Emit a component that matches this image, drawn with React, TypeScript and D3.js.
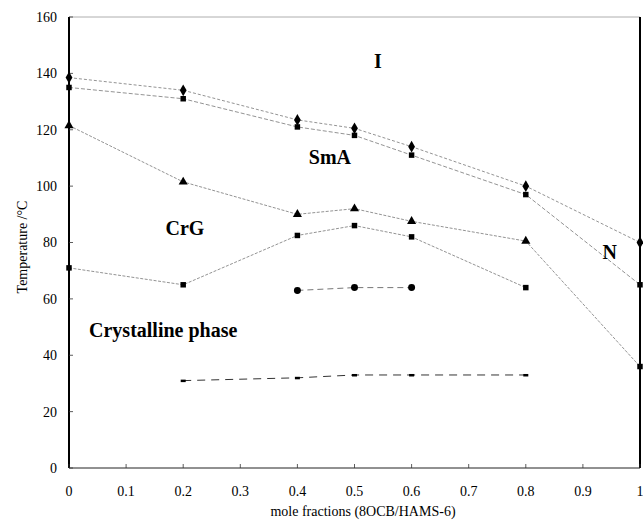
import * as d3 from 'd3';

const xTicks = [0, 0.1, 0.2, 0.3, 0.4, 0.5, 0.6, 0.7, 0.8, 0.9, 1];
const yTicks = [0, 20, 40, 60, 80, 100, 120, 140, 160];

// isotropic (I) transition - diamonds
const clearX = [0, 0.2, 0.4, 0.5, 0.6, 0.8, 1];
const clearY = [138.5, 134, 123.5, 120.5, 114, 100, 80];
// N / SmA upper - squares
const upperX = [0, 0.2, 0.4, 0.5, 0.6, 0.8, 1];
const upperY = [135, 131, 121, 118, 111, 97, 65];
// SmA / CrG - triangles
const smaX = [0, 0.2, 0.4, 0.5, 0.6, 0.8, 1];
const smaY = [121.5, 101.5, 90, 92, 87.5, 80.5, 36];
// CrG / crystal - squares
const crgX = [0, 0.2, 0.4, 0.5, 0.6, 0.8];
const crgY = [71, 65, 82.5, 86, 82, 64];
// circles
const circX = [0.4, 0.5, 0.6];
const circY = [63, 64, 64];
// lowest transition - dashes
const lowX = [0.2, 0.4, 0.5, 0.6, 0.8];
const lowY = [31, 32, 33, 33, 33];

const phaseLabels = [
  { text: 'I', x: 0.541, y: 144.5 },
  { text: 'SmA', x: 0.457, y: 110.5 },
  { text: 'CrG', x: 0.203, y: 85 },
  { text: 'N', x: 0.947, y: 76.5 },
  { text: 'Crystalline phase', x: 0.165, y: 49 },
];

const W = 643;
const H = 524;
const left = 69;
const right = 640;
const top = 17;
const bottom = 468;

export default function App() {
  const x = d3.scaleLinear().domain([0, 1]).range([left, right]);
  const y = d3.scaleLinear().domain([0, 160]).range([bottom, top]);
  const line = (xs: number[], ys: number[]) =>
    d3.line<number>().x((_, i) => x(xs[i])).y((d) => y(d))(ys) || '';

  const font = '"Liberation Serif", "Times New Roman", serif';
  const stroke = '#777';

  const diamond = d3.symbol(d3.symbolDiamond, 40)() || '';
  const square = d3.symbol(d3.symbolSquare, 30)() || '';
  const triangle = d3.symbol(d3.symbolTriangle, 36)() || '';
  const circle = d3.symbol(d3.symbolCircle, 38)() || '';

  return (
    <svg
      width={W}
      height={H}
      style={{ position: 'absolute', left: 0, top: 0, background: '#fff', fontFamily: font }}
    >
      {/* frame */}
      <line x1={left} x2={right} y1={top} y2={top} stroke="#999" strokeWidth={0.8} />
      <line x1={left} x2={right} y1={bottom} y2={bottom} stroke="#222" strokeWidth={1} />
      <line x1={left} x2={left} y1={top} y2={bottom} stroke="#000" strokeWidth={2} />
      <line x1={right} x2={right} y1={top} y2={bottom} stroke="#000" strokeWidth={2} />

      {yTicks.map((t) => (
        <g key={'y' + t}>
          <line x1={left} x2={left + 4} y1={y(t)} y2={y(t)} stroke="#333" strokeWidth={0.8} />
          <text x={57} y={y(t)} dy="0.35em" textAnchor="end" fontSize={14}>
            {t}
          </text>
        </g>
      ))}
      {xTicks.map((t) => (
        <g key={'x' + t}>
          <line x1={x(t)} x2={x(t)} y1={bottom} y2={bottom - 4} stroke="#333" strokeWidth={0.8} />
          <text x={x(t)} y={496} textAnchor="middle" fontSize={14}>
            {t}
          </text>
        </g>
      ))}

      <text
        transform={`translate(27,247) rotate(-90)`}
        textAnchor="middle"
        fontSize={14}
      >
        Temperature /°C
      </text>
      <text x={363} y={516} textAnchor="middle" fontSize={14}>
        mole fractions (8OCB/HAMS-6)
      </text>

      {/* lines */}
      <path d={line(clearX, clearY)} fill="none" stroke={stroke} strokeWidth={0.8} strokeDasharray="3,2" />
      <path d={line(upperX, upperY)} fill="none" stroke={stroke} strokeWidth={0.8} strokeDasharray="4,2" />
      <path d={line(smaX, smaY)} fill="none" stroke={stroke} strokeWidth={0.8} strokeDasharray="3,1.5" />
      <path d={line(crgX, crgY)} fill="none" stroke={stroke} strokeWidth={0.8} strokeDasharray="3,1.5" />
      <path d={line(circX, circY)} fill="none" stroke={stroke} strokeWidth={1} strokeDasharray="6,4" />
      <path d={line(lowX, lowY)} fill="none" stroke="#333" strokeWidth={1} strokeDasharray="8,6" />

      {/* markers */}
      {clearX.map((v, i) => (
        <path key={'d' + i} d={diamond} transform={`translate(${x(v)},${y(clearY[i])})`} fill="#000" />
      ))}
      {upperX.map((v, i) => (
        <path key={'s' + i} d={square} transform={`translate(${x(v)},${y(upperY[i])})`} fill="#000" />
      ))}
      {smaX.map((v, i) =>
        i < smaX.length - 1 ? (
          <path key={'t' + i} d={triangle} transform={`translate(${x(v)},${y(smaY[i])})`} fill="#000" />
        ) : (
          <path key={'t' + i} d={square} transform={`translate(${x(v)},${y(smaY[i])})`} fill="#000" />
        )
      )}
      {crgX.map((v, i) => (
        <path key={'c' + i} d={square} transform={`translate(${x(v)},${y(crgY[i])})`} fill="#000" />
      ))}
      {circX.map((v, i) => (
        <path key={'o' + i} d={circle} transform={`translate(${x(v)},${y(circY[i])})`} fill="#000" />
      ))}
      {lowX.map((v, i) => (
        <rect key={'l' + i} x={x(v) - 2.5} y={y(lowY[i]) - 1} width={5} height={2.5} fill="#000" />
      ))}

      {phaseLabels.map((p) => (
        <text
          key={p.text}
          x={x(p.x)}
          y={y(p.y)}
          dy="0.35em"
          textAnchor="middle"
          fontSize={20}
          fontWeight="bold"
        >
          {p.text}
        </text>
      ))}
    </svg>
  );
}
